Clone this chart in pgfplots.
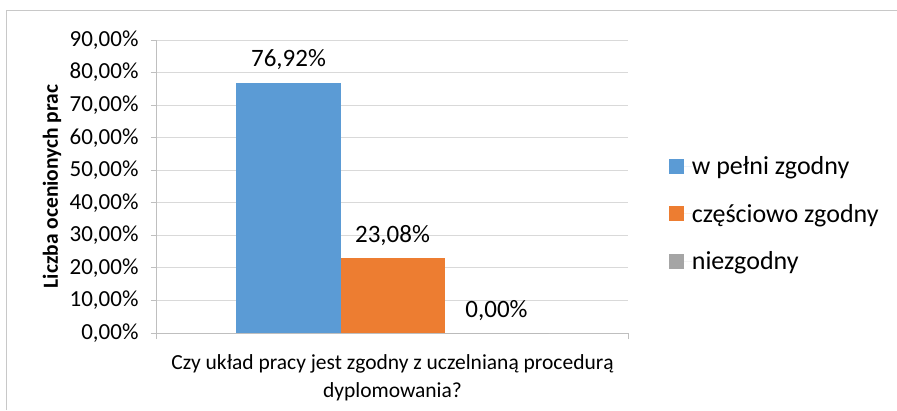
\documentclass[border=0pt]{standalone}
\usepackage{fontspec}
\setmainfont{Carlito}
\usepackage{pgfplots}
\pgfplotsset{compat=1.18}
\definecolor{cblue}{HTML}{5B9BD5}
\definecolor{corange}{HTML}{ED7D31}
\definecolor{cgray}{HTML}{A5A5A5}
\definecolor{gridc}{HTML}{D9D9D9}
\definecolor{axc}{HTML}{BFBFBF}
\definecolor{framec}{HTML}{C8C8C8}
\begin{document}
\begin{tikzpicture}[x=1pt,y=1pt]
\useasboundingbox (0,0) rectangle (897,410);
\draw[framec, line width=1pt] (6.5,0) -- (6.5,399) -- (897,399);
\begin{axis}[
  at={(157pt,77pt)}, anchor=south west,
  scale only axis, width=471pt, height=293pt,
  /pgf/number format/assume math mode=true,
  ybar=0pt, bar width=104pt,
  xmin=-1.5, xmax=1.5, ymin=0, ymax=90,
  ytick={0,10,...,90},
  xtick={-1.5,1.5}, xticklabels={},
  yticklabel={\pgfmathprintnumber[fixed,fixed zerofill,precision=2,use comma,assume math mode=true]{\tick}\%},
  ticklabel style={font=\fontsize{23}{27}\selectfont},
  yticklabel style={xshift=-9pt},
  axis x line*=bottom, axis y line*=left,
  axis line style={axc, line width=1pt, -},
  tick style={axc, line width=1pt},
  tick align=outside, major tick length=6pt,
  ymajorgrids, grid style={gridc, line width=1pt},
  xlabel={Czy układ pracy jest zgodny z uczelnianą procedurą\\dyplomowania?},
  xlabel style={font=\fontsize{21.5}{28}\selectfont, align=center, at={(axis description cs:0.5,0)}, anchor=north, inner sep=0pt, yshift=-21pt},
  ylabel={\textbf{Liczba ocenionych prac}},
  ylabel style={font=\fontsize{21.5}{25}\selectfont, at={(axis description cs:-0.223,0.5)}, anchor=center},
  nodes near coords={\pgfmathprintnumber[fixed,fixed zerofill,precision=2,use comma,assume math mode=true]{\pgfplotspointmeta}\%},
  every node near coord/.append style={font=\fontsize{25}{30}\selectfont, black, yshift=9pt},
  legend style={draw=none, fill=none, at={(1.08,0.61)}, anchor=north west,
     font=\fontsize{26}{30}\selectfont, row sep=28pt,
     nodes={inner sep=0pt, anchor=west}},
  legend cell align=left,
  legend image code/.code={\fill[#1] (0pt,-7.5pt) rectangle (15pt,7.5pt); \path (0pt,0pt) -- (23pt,0pt);},
]
\addplot[fill=cblue, draw=none] coordinates {(0,76.92)};
\addplot[fill=corange, draw=none] coordinates {(0,23.08)};
\addplot[fill=cgray, draw=none] coordinates {(0,0)};
\legend{w pełni zgodny, częściowo zgodny, niezgodny}
\end{axis}
\end{tikzpicture}
\end{document}
